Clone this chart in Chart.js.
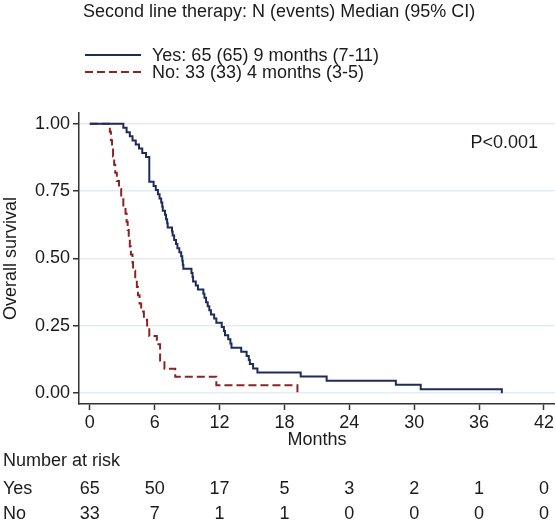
<!DOCTYPE html>
<html>
<head>
<meta charset="utf-8">
<script src="https://cdn.jsdelivr.net/npm/chart.js@4"></script>
<style>
  html, body { margin: 0; padding: 0; background: #fff; }
</style>
</head>
<body>
<canvas id="km" width="556" height="523"></canvas>
<script>
// Kaplan-Meier steps (months, survival)
const yesTime = [0, 3.1, 3.4, 3.7, 3.95, 4.25, 4.55, 4.85, 5.2, 5.5, 5.9, 6.1, 6.3, 6.45, 6.6, 6.7, 6.75, 6.95, 7.05, 7.15, 7.2,
  7.6, 7.66, 7.8, 7.97, 8.1, 8.28, 8.45, 8.55, 8.6, 8.65, 9.4, 9.5, 9.55, 9.8, 10.0, 10.5, 10.6, 10.75, 10.9, 11.05, 11.2,
  11.5, 11.7, 12.2, 12.4, 12.5, 12.8, 13.0, 13.1, 14.0, 14.5, 14.7, 14.8, 15.1, 15.5, 19.5, 21.9, 28.3, 30.6, 38.1];
const yesSurv = [1, .985, .969, .954, .938, .923, .908, .892, .877, .785, .769, .754, .738, .723, .708, .692, .677, .662, .646, .631, .615,
  .600, .585, .569, .554, .538, .523, .508, .492, .477, .462, .446, .431, .415, .400, .385, .369, .354, .338, .323, .308, .292,
  .277, .262, .246, .231, .215, .200, .185, .169, .154, .138, .123, .108, .092, .077, .062, .046, .031, .015, 0];

const noTime = [0, 1.85, 1.95, 2.05, 2.15, 2.25, 2.35, 2.5, 2.7, 2.9, 3.1, 3.3, 3.4, 3.5, 3.6, 3.7, 3.8, 3.95, 4.0, 4.2,
  4.35, 4.45, 4.6, 4.75, 5.0, 5.3, 5.5, 6.2, 6.5, 6.9, 7.9, 11.7, 19.2];
const noSurv = [1, .970, .939, .909, .879, .848, .818, .788, .758, .727, .697, .667, .636, .606, .576, .545, .515, .485, .455, .424,
  .394, .364, .333, .303, .273, .242, .212, .182, .121, .091, .061, .030, 0];

const xTicks = [0, 6, 12, 18, 24, 30, 36, 42];
const yTicks = [0, 0.25, 0.5, 0.75, 1];

const groups = ['Yes', 'No'];
const legendText = ['Yes: 65 (65) 9 months (7-11)', 'No: 33 (33) 4 months (3-5)'];
const riskYes = [65, 50, 17, 5, 3, 2, 1, 0];
const riskNo = [33, 7, 1, 1, 0, 0, 0, 0];

const header = 'Second line therapy: N (events) Median (95% CI)';
const pText = 'P<0.001';

const INK = '#1b1b1b';
const FONT_FAMILY = '"Liberation Sans", Arial, Helvetica, sans-serif';
const FS = 18;

Chart.defaults.font.family = FONT_FAMILY;
Chart.defaults.font.size = FS;
Chart.defaults.color = INK;

const pts = (t, s) => t.map((v, i) => ({ x: v, y: s[i] }));

const textPlugin = {
  id: 'kmText',
  afterDraw(chart) {
    const ctx = chart.ctx;
    const xs = chart.scales.x;
    ctx.save();
    ctx.fillStyle = INK;
    ctx.font = FS + 'px ' + FONT_FAMILY;
    ctx.textBaseline = 'middle';
    ctx.textAlign = 'left';
    ctx.fillText(header, 83, 12);

    // legend
    chart.data.datasets.forEach((ds, i) => {
      const y = 55 + i * 17;
      ctx.save();
      ctx.strokeStyle = ds.borderColor;
      ctx.lineWidth = ds.borderWidth;
      ctx.setLineDash(ds.borderDash || []);
      ctx.beginPath();
      ctx.moveTo(85, y);
      ctx.lineTo(141, y);
      ctx.stroke();
      ctx.restore();
      ctx.fillText(legendText[i], 152, y + 1);
    });

    ctx.textAlign = 'right';
    ctx.fillText(pText, 538, 143);

    // number at risk table
    ctx.textAlign = 'left';
    ctx.fillText('Number at risk', 3, 461);
    ctx.fillText(groups[0], 3, 489);
    ctx.fillText(groups[1], 3, 514);
    ctx.textAlign = 'center';
    xTicks.forEach((t, i) => {
      const px = xs.getPixelForValue(t);
      ctx.fillText(String(riskYes[i]), px, 489);
      ctx.fillText(String(riskNo[i]), px, 514);
    });
    ctx.restore();
  }
};

new Chart(document.getElementById('km'), {
  type: 'line',
  data: {
    datasets: [
      {
        label: groups[0],
        data: pts(yesTime, yesSurv),
        borderColor: '#1d2d5a',
        borderWidth: 2,
        stepped: true,
        pointRadius: 0,
        fill: false
      },
      {
        label: groups[1],
        data: pts(noTime, noSurv),
        borderColor: '#8a2424',
        borderWidth: 2,
        borderDash: [8, 4],
        stepped: true,
        pointRadius: 0,
        fill: false
      }
    ]
  },
  options: {
    responsive: false,
    animation: false,
    layout: { padding: { top: 113, right: 0, bottom: 72, left: 0 } },
    plugins: {
      legend: { display: false },
      tooltip: { enabled: false },
      title: { display: false }
    },
    scales: {
      x: {
        type: 'linear',
        min: -1,
        max: 43,
        afterBuildTicks: s => { s.ticks = xTicks.map(v => ({ value: v })); },
        afterFit: s => { s.height = 47; },
        grid: { drawOnChartArea: false, drawTicks: true, tickLength: 6, tickColor: '#333', tickWidth: 1.5 },
        border: { display: true, color: '#333', width: 1.5 },
        ticks: { padding: 2, maxRotation: 0, color: INK },
        title: { display: true, text: 'Months', padding: 0, color: INK }
      },
      y: {
        type: 'linear',
        min: -0.04,
        max: 1.04,
        afterBuildTicks: s => { s.ticks = yTicks.map(v => ({ value: v })); },
        afterFit: s => { s.width = 79; },
        grid: { color: '#e2edf3', lineWidth: 1.5, drawTicks: true, tickLength: 6, tickColor: '#333', tickWidth: 1.5 },
        border: { display: true, color: '#333', width: 1.5 },
        ticks: { padding: 3, color: INK, callback: v => v.toFixed(2) },
        title: { display: true, text: 'Overall survival', padding: 0, color: INK }
      }
    }
  },
  plugins: [textPlugin]
});
</script>
</body>
</html>
